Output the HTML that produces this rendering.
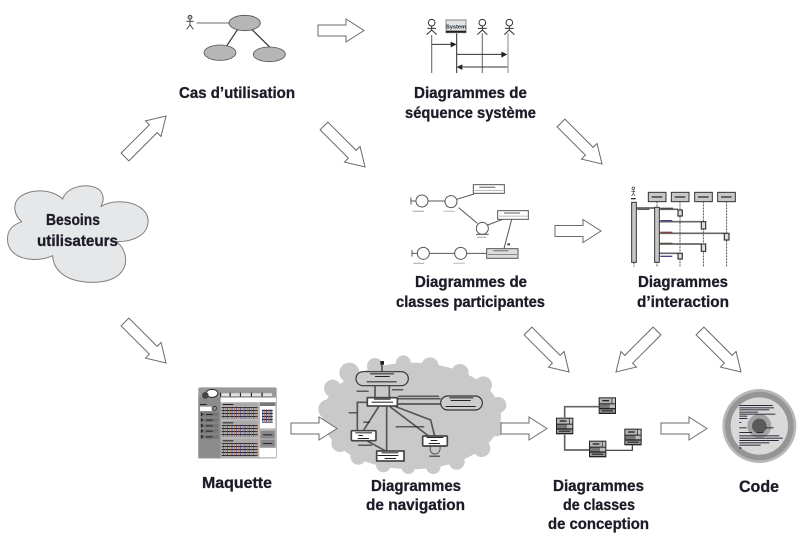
<!DOCTYPE html>
<html><head><meta charset="utf-8"><style>
html,body{margin:0;padding:0;background:#fff;width:811px;height:537px;overflow:hidden}
svg{display:block}
.l{font-family:"Liberation Sans",sans-serif;font-weight:bold;font-size:15.5px;fill:#1c1c28;stroke:#1c1c28;stroke-width:.3}
.a{fill:#fff;stroke:#6a6a6a;stroke-width:1}
</style></head><body>
<svg width="811" height="537" viewBox="0 0 811 537" xmlns="http://www.w3.org/2000/svg">
<defs>
<path id="h" class="a" d="M-46,-5.5H-18V-11.5L0,0L-18,11.5V5.5H-46Z"/>
<path id="d" class="a" d="M-58,-5.5H-18V-11L0,0L-18,11V5.5H-58Z"/>
<pattern id="grid" width="13" height="9" patternUnits="userSpaceOnUse">
<rect width="13" height="9" fill="#f0f0f0"/>
<rect y="0" width="13" height="3.5" fill="#222"/>
<rect y="5.5" width="13" height="1.5" fill="#555"/>
<rect x="2" width="2" height="9" fill="#a8603a"/>
<rect x="8" width="2" height="9" fill="#3f3f90"/>
</pattern>
<g id="cls">
<rect x="0" y="0" width="52" height="50" fill="#222"/>
<rect x="3" y="3" width="36" height="15" fill="#b4b4b4"/>
<rect x="11" y="8" width="20" height="4" fill="#222"/>
<rect x="41" y="3" width="8" height="15" fill="#c4c4c4"/>
<rect x="3" y="21" width="30" height="11" fill="#777"/>
<rect x="33" y="21" width="16" height="11" fill="#bbb"/>
<rect x="3" y="36" width="46" height="10" fill="#999"/>
<rect x="9" y="39" width="34" height="3" fill="#111"/>
</g>
</defs>

<!-- cloud Besoins -->
<g transform="translate(0,100) scale(.33333)">
<path d="M188,297C200,262 250,250 285,262C312,272 315,300 302,320C335,298 400,300 430,330C455,355 445,395 415,410C395,422 370,425 350,425C380,450 385,490 365,515C340,548 280,552 235,543C195,535 160,510 158,467C125,482 70,485 40,458C15,435 18,395 40,378C48,372 56,368 65,365C42,345 38,315 55,295C85,265 155,265 188,297Z" fill="#e6e7e8" stroke="#7e7e7e" stroke-width="3"/>
</g>
<text class="l" x="46" y="225" textLength="54" lengthAdjust="spacingAndGlyphs">Besoins</text>
<text class="l" x="37" y="246" textLength="81" lengthAdjust="spacingAndGlyphs">utilisateurs</text>

<!-- arrows -->
<use href="#d" transform="translate(166,116) rotate(-45)"/>
<use href="#d" transform="translate(166,363) rotate(45)"/>
<use href="#h" transform="translate(364,30.5)"/>
<use href="#d" transform="translate(365,167) rotate(45)"/>
<use href="#d" transform="translate(602,164) rotate(45)"/>
<use href="#h" transform="translate(601,231)"/>
<use href="#d" transform="translate(569,372) rotate(45)"/>
<use href="#d" transform="translate(616,372) rotate(135)"/>
<use href="#d" transform="translate(741,372) rotate(45)"/>

<!-- use case + sequence -->
<g transform="translate(170,0) scale(.33333)">
<circle cx="60" cy="52" r="6" fill="#bbb" stroke="#333" stroke-width="2.5"/>
<path d="M60,58V74M49,64H71M60,74L50,88M60,74L70,88" stroke="#333" stroke-width="2.5" fill="none"/>
<path d="M80,69H178" stroke="#888" stroke-width="4"/>
<path d="M203,88L170,138M245,88L300,142" stroke="#333" stroke-width="3.5"/>
<ellipse cx="224" cy="69" rx="47" ry="23" fill="#b6b6b6" stroke="#555" stroke-width="2.5"/>
<ellipse cx="150" cy="158" rx="48" ry="23" fill="#b6b6b6" stroke="#555" stroke-width="2.5"/>
<ellipse cx="298" cy="163" rx="48" ry="22" fill="#b6b6b6" stroke="#555" stroke-width="2.5"/>

<g fill="none" stroke="#333" stroke-width="3">
<circle cx="785" cy="68" r="10"/><circle cx="937" cy="68" r="10"/><circle cx="1018" cy="68" r="10"/>
<path d="M785,78V90M772,85H798M785,90L770,104M785,90L800,104"/>
<path d="M937,78V90M924,85H950M937,90L922,104M937,90L952,104"/>
<path d="M1018,78V90M1005,85H1031M1018,90L1003,104M1018,90L1033,104"/>
</g>
<path d="M785,105V219" stroke="#777" stroke-width="3.5"/>
<path d="M860,100V219" stroke="#444" stroke-width="3.5"/>
<path d="M937,100V219" stroke="#777" stroke-width="3.5"/>
<path d="M1014,100V219" stroke="#999" stroke-width="3.5"/>
<rect x="828" y="60" width="60" height="38" fill="#e4e4e4" stroke="#888" stroke-width="3"/>
<rect x="828" y="92" width="60" height="6" fill="#222"/>
<text x="858" y="85" text-anchor="middle" font-family="Liberation Sans,sans-serif" font-weight="bold" font-size="17" fill="#123">System</text>
<g stroke="#333" stroke-width="3"><path d="M785,133H845"/><path d="M860,163H998"/><path d="M876,201H1012"/></g>
<g fill="#222"><path d="M860,133L842,125V142Z"/><path d="M1012,163L994,155V173Z"/><path d="M860,201L877,193V210Z"/></g>
</g>
<text class="l" x="179" y="98" textLength="116" lengthAdjust="spacingAndGlyphs">Cas d’utilisation</text>
<text class="l" x="414" y="98" textLength="113" lengthAdjust="spacingAndGlyphs">Diagrammes de</text>
<text class="l" x="405" y="118" textLength="131" lengthAdjust="spacingAndGlyphs">séquence système</text>

<!-- participants + interaction -->
<g transform="translate(400,170) scale(.33333)">
<g fill="none" stroke="#555" stroke-width="3">
<path d="M33,83V104M33,93H48M84,93H135"/>
<path d="M170,88L222,72"/>
<path d="M176,113L232,160"/>
<path d="M263,165L308,148"/>
<path d="M36,240V260M36,250H52M88,250H164M200,250H260"/>
<path d="M312,236L335,148"/>
<circle cx="66" cy="93" r="18" fill="#fff"/>
<circle cx="153" cy="95" r="18" fill="#fff"/>
<circle cx="247" cy="175" r="18" fill="#fff"/>
<circle cx="70" cy="250" r="18" fill="#fff"/>
<circle cx="182" cy="250" r="18" fill="#fff"/>
<path d="M228,193H266"/>
</g>
<g fill="#fff" stroke="#555" stroke-width="3">
<rect x="220" y="44" width="93" height="26"/>
<rect x="293" y="122" width="92" height="26"/>
<rect x="260" y="236" width="94" height="29" fill="#ddd"/>
</g>
<g fill="#888">
<rect x="238" y="50" width="48" height="4"/><rect x="224" y="60" width="85" height="3" fill="#bbb"/>
<rect x="312" y="127" width="48" height="4"/><rect x="297" y="137" width="85" height="3" fill="#bbb"/>
<rect x="280" y="240" width="45" height="4"/><rect x="264" y="252" width="86" height="3"/>
<rect x="38" y="122" width="34" height="4" fill="#bbb"/><rect x="130" y="122" width="34" height="4" fill="#ccc"/>
<rect x="231" y="200" width="28" height="4" fill="#bbb"/>
<rect x="40" y="278" width="32" height="4" fill="#bbb"/><rect x="160" y="278" width="34" height="4" fill="#ccc"/>
<rect x="322" y="220" width="8" height="6" fill="#444"/>
</g>

<g>
<circle cx="700" cy="55" r="4" fill="none" stroke="#333" stroke-width="2"/>
<path d="M700,59V70M694,64H706M700,70L695,78M700,70L705,78" stroke="#333" stroke-width="2" fill="none"/>
<rect x="693" y="84" width="14" height="4" fill="#333"/>
<g stroke="#333" stroke-width="2.5" stroke-dasharray="6 3">
<path d="M702,277V290M771,94V290M840,94V290M910,94V290M980,94V290"/></g>
<g fill="#c8c8c8" stroke="#333" stroke-width="3">
<rect x="745" y="67" width="53" height="28"/><rect x="814" y="67" width="53" height="28"/>
<rect x="884" y="67" width="53" height="28"/><rect x="953" y="67" width="53" height="28"/>
</g>
<g fill="#333"><rect x="755" y="79" width="32" height="4"/><rect x="824" y="79" width="32" height="4"/><rect x="894" y="79" width="32" height="4"/><rect x="963" y="79" width="32" height="4"/></g>
<g stroke="#666" stroke-width="5"><path d="M709,114H764M778,118H834M778,155H903M778,190H973M778,222H903M778,250H834"/></g>
<g fill="#c8c8c8" stroke="#333" stroke-width="3">
<rect x="695" y="97" width="14" height="180"/><rect x="764" y="112" width="14" height="165"/>
</g>
<g fill="#ddd" stroke="#333" stroke-width="3.5">
<rect x="834" y="120" width="13" height="18"/><rect x="904" y="155" width="13" height="22"/><rect x="973" y="190" width="14" height="20"/><rect x="904" y="222" width="13" height="22"/><rect x="834" y="250" width="13" height="17"/>
</g>
<g><rect x="712" y="116" width="36" height="4" fill="#555"/><rect x="781" y="113" width="38" height="4" fill="#444"/><rect x="781" y="150" width="36" height="4" fill="#448"/><rect x="781" y="185" width="36" height="4" fill="#844"/><rect x="781" y="218" width="36" height="4" fill="#554"/><rect x="781" y="257" width="36" height="4" fill="#448"/></g>
</g>
</g>
<text class="l" x="415" y="287" textLength="112" lengthAdjust="spacingAndGlyphs">Diagrammes de</text>
<text class="l" x="396" y="307" textLength="149" lengthAdjust="spacingAndGlyphs">classes participantes</text>
<text class="l" x="638" y="287" textLength="90" lengthAdjust="spacingAndGlyphs">Diagrammes</text>
<text class="l" x="637" y="307" textLength="92" lengthAdjust="spacingAndGlyphs">d’interaction</text>

<!-- maquette + navigation -->
<g transform="translate(190,350) scale(.33333)">
<rect x="25" y="112" width="235" height="213" rx="5" fill="#9a9a9a"/>
<rect x="25" y="140" width="67" height="185" fill="#8c8c8c"/>
<rect x="92" y="143" width="166" height="14" fill="#fff"/>
<rect x="92" y="157" width="166" height="166" fill="#b8b8b8"/>
<ellipse cx="66" cy="130" rx="18" ry="12" fill="#fff" stroke="#222" stroke-width="3"/>
<circle cx="46" cy="136" r="10" fill="#444"/>
<g fill="#e4e4e4"><rect x="95" y="130" width="23" height="8"/><rect x="123" y="130" width="26" height="8"/><rect x="153" y="130" width="29" height="8"/><rect x="186" y="130" width="27" height="8"/><rect x="218" y="130" width="28" height="8"/></g>
<g fill="#222"><rect x="90" y="128" width="3" height="12"/><rect x="119" y="128" width="3" height="12"/><rect x="150" y="128" width="3" height="12"/><rect x="183" y="128" width="3" height="12"/><rect x="215" y="128" width="3" height="12"/></g>
<rect x="30" y="170" width="35" height="13" fill="#fff"/>
<circle cx="74" cy="175" r="6" fill="none" stroke="#333" stroke-width="2.5"/>
<rect x="30" y="162" width="20" height="3" fill="#222"/>
<g fill="#777"><rect x="32" y="187" width="54" height="13"/><rect x="32" y="204" width="54" height="13"/><rect x="32" y="221" width="54" height="13"/><rect x="32" y="237" width="54" height="13"/><rect x="32" y="254" width="54" height="13"/></g>
<g fill="#222"><path d="M33,187l7,6l-7,6zM33,204l7,6l-7,6zM33,221l7,6l-7,6zM33,237l7,6l-7,6zM33,254l7,6l-7,6z"/>
<rect x="48" y="192" width="20" height="3"/><rect x="48" y="209" width="20" height="3"/><rect x="48" y="226" width="20" height="3"/><rect x="48" y="242" width="20" height="3"/><rect x="48" y="259" width="20" height="3"/></g>
<g fill="#aaa"><rect x="95" y="158" width="108" height="12"/><rect x="95" y="213" width="108" height="12"/><rect x="95" y="267" width="108" height="12"/></g>
<g fill="#222"><rect x="98" y="162" width="32" height="3"/><rect x="98" y="217" width="32" height="3"/><rect x="98" y="271" width="32" height="3"/></g>
<rect x="95" y="170" width="108" height="36" fill="url(#grid)"/>
<rect x="95" y="225" width="108" height="35" fill="url(#grid)"/>
<rect x="95" y="279" width="108" height="40" fill="url(#grid)"/>
<rect x="210" y="157" width="46" height="78" fill="#fff"/>
<rect x="210" y="157" width="46" height="11" fill="#777"/>
<rect x="216" y="178" width="32" height="40" fill="url(#grid)"/>
<rect x="210" y="240" width="46" height="80" fill="#aaa"/>
<rect x="212" y="243" width="42" height="22" fill="#888"/>
<rect x="212" y="270" width="42" height="20" fill="#888"/>
<rect x="219" y="253" width="28" height="3" fill="#222"/>
<rect x="219" y="279" width="28" height="3" fill="#222"/>
<rect x="208" y="294" width="50" height="28" fill="#fff"/>

<!-- nav cloud -->
<g fill="#c9c9c9">
<ellipse cx="665" cy="198" rx="268" ry="160"/>
<circle cx="415" cy="178" r="30"/><circle cx="428" cy="115" r="26"/><circle cx="478" cy="68" r="30"/>
<circle cx="555" cy="48" r="24"/><circle cx="640" cy="38" r="22"/><circle cx="720" cy="48" r="26"/>
<circle cx="810" cy="68" r="26"/><circle cx="880" cy="105" r="26"/><circle cx="925" cy="165" r="24"/>
<circle cx="920" cy="235" r="24"/><circle cx="875" cy="295" r="26"/><circle cx="800" cy="335" r="24"/>
<circle cx="730" cy="350" r="22"/><circle cx="655" cy="352" r="20"/><circle cx="580" cy="345" r="22"/>
<circle cx="505" cy="320" r="24"/><circle cx="450" cy="280" r="26"/><circle cx="412" cy="225" r="24"/>
</g>
<g stroke="#555" stroke-width="5" fill="none">
<path d="M576,42V65M555,107V143M598,143V107"/>
<path d="M622,146H752M752,162H622"/>
<path d="M532,157H502V242"/>
<path d="M520,242L566,170"/>
<path d="M590,170V303"/>
<path d="M600,170L716,258"/>
<path d="M612,168L722,210L734,258"/>
<path d="M530,272L590,305"/>
<path d="M722,288C712,318 755,322 750,288" stroke-width="3"/>
</g>
<rect x="571" y="33" width="11" height="11" fill="#222"/>
<g stroke="#333" stroke-width="3.5">
<rect x="498" y="65" width="157" height="42" rx="21" fill="#ccc"/>
<rect x="752" y="138" width="125" height="42" rx="21" fill="#ccc"/>
</g>
<g stroke="#444" stroke-width="5" fill="#fff">
<rect x="532" y="143" width="90" height="25"/>
<rect x="484" y="242" width="74" height="30" rx="3"/>
<rect x="560" y="303" width="82" height="30"/>
<rect x="698" y="258" width="74" height="30" rx="3"/>
</g>
<g fill="#222">
<rect x="540" y="70" width="72" height="3"/><rect x="555" y="78" width="44" height="3"/><rect x="530" y="94" width="90" height="3"/>
<rect x="778" y="142" width="72" height="3"/><rect x="782" y="150" width="60" height="3"/><rect x="767" y="168" width="90" height="3"/>
<rect x="552" y="146" width="50" height="3"/><rect x="545" y="155" width="64" height="3"/>
<rect x="496" y="247" width="50" height="3"/><rect x="505" y="255" width="14" height="3"/><rect x="503" y="264" width="34" height="3"/>
<rect x="575" y="307" width="50" height="3"/><rect x="563" y="315" width="62" height="3"/><rect x="584" y="324" width="34" height="3"/>
<rect x="710" y="261" width="50" height="3"/><rect x="722" y="270" width="20" height="3"/><rect x="716" y="279" width="34" height="3"/>
<rect x="500" y="122" width="36" height="3"/><rect x="606" y="118" width="34" height="3"/>
<rect x="625" y="137" width="122" height="3"/>
<rect x="476" y="187" width="24" height="3"/><rect x="520" y="215" width="20" height="3"/><rect x="504" y="284" width="42" height="3"/>
<rect x="617" y="229" width="86" height="3"/><rect x="718" y="317" width="32" height="3"/>
</g>
</g>
<text class="l" x="202" y="488" textLength="70" lengthAdjust="spacingAndGlyphs">Maquette</text>
<text class="l" x="371" y="491" textLength="90" lengthAdjust="spacingAndGlyphs">Diagrammes</text>
<text class="l" x="366" y="510" textLength="99" lengthAdjust="spacingAndGlyphs">de navigation</text>

<use href="#h" transform="translate(337,428.5)"/>
<use href="#h" transform="translate(547,428.5)"/>
<use href="#h" transform="translate(707,428.5)"/>

<!-- conception + code -->
<g transform="translate(500,370) scale(.33333)">
<path d="M194,142V110H296M194,194V240H267" fill="none" stroke="#666" stroke-width="5"/>
<path d="M319,241H397V226" fill="none" stroke="#333" stroke-width="3.5"/>
<use href="#cls" x="168" y="143"/>
<use href="#cls" x="296" y="82"/>
<use href="#cls" x="267" y="212"/>
<use href="#cls" x="373" y="176"/>
<circle cx="778" cy="168" r="111" fill="#b8b8b8"/>
<circle cx="778" cy="168" r="103" fill="#959595"/>
<circle cx="778" cy="168" r="86" fill="#d9d9d9"/>
<circle cx="778" cy="168" r="36" fill="#a2a2a2"/>
<circle cx="778" cy="168" r="22" fill="#5a5a5a"/>
<g fill="#2a2a3a">
<rect x="718" y="105" width="100" height="3"/><rect x="718" y="112" width="104" height="3"/>
<rect x="718" y="118" width="90" height="3"/><rect x="718" y="125" width="56" height="3"/>
<rect x="718" y="131" width="108" height="3"/><rect x="718" y="137" width="24" height="3"/>
<rect x="718" y="144" width="24" height="3"/><rect x="718" y="156" width="6" height="3"/>
<rect x="718" y="172" width="22" height="3"/><rect x="795" y="172" width="26" height="3"/>
<rect x="718" y="186" width="38" height="3"/><rect x="770" y="186" width="20" height="3"/>
<rect x="718" y="196" width="120" height="3"/><rect x="718" y="203" width="130" height="3"/>
<rect x="718" y="210" width="118" height="3"/><rect x="718" y="217" width="90" height="3"/>
<rect x="718" y="224" width="64" height="3"/><rect x="718" y="232" width="6" height="4"/>
</g>
</g>
<text class="l" x="553" y="491" textLength="91" lengthAdjust="spacingAndGlyphs">Diagrammes</text>
<text class="l" x="563" y="510" textLength="72" lengthAdjust="spacingAndGlyphs">de classes</text>
<text class="l" x="548" y="529" textLength="101" lengthAdjust="spacingAndGlyphs">de conception</text>
<text class="l" x="739" y="492" textLength="40" lengthAdjust="spacingAndGlyphs" style="font-size:17px">Code</text>
</svg>
</body></html>
